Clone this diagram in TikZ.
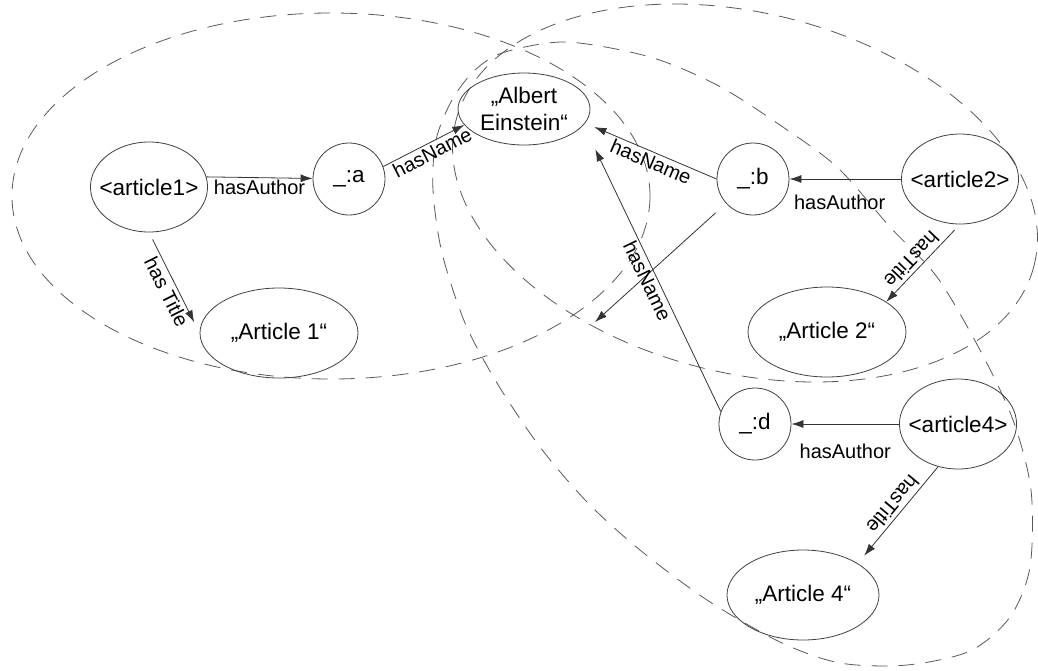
\documentclass[tikz,border=0pt]{standalone}
\usepackage{fontspec}
\setmainfont{Liberation Sans}
\usepackage{tikz}
\usetikzlibrary{arrows.meta,shapes.geometric,positioning}
\newcommand{\resfont}{\fontsize{22.5}{27}\selectfont}
\newcommand{\propfont}{\fontsize{20}{24}\selectfont}

\begin{document}
\begin{tikzpicture}[x=1pt, y=-1pt,
    >={Latex[length=12pt,width=8pt]},
    rdf/.style={draw=black!75, line width=0.8pt, inner xsep=-8pt, inner ysep=0pt, font=\resfont},
    uri/.style={rdf, ellipse, minimum width=114pt, minimum height=90pt},
    lit/.style={rdf, ellipse, minimum width=158pt, minimum height=90pt},
    bnode/.style={rdf, circle, minimum size=72pt},
    link/.style={->, draw=black!80, line width=0.8pt},
    prop/.style={font=\propfont, inner sep=2pt},
    cbd/.style={draw=black!65, line width=0.8pt, dash pattern=on 16pt off 11pt}]
    \useasboundingbox (0,0) rectangle (1038,670);

    % descriptions
    \draw[cbd] (331,196) ellipse [x radius=319, y radius=183];
    \draw[cbd, rotate around={-14:(745,193)}] (745,193) ellipse [x radius=298, y radius=180];
    \draw[cbd] plot[smooth cycle] coordinates {(452,100) (475,70) (505,52) (567,42) (650,57)
        (717,85) (777,123) (837,167) (890,227) (937,277) (980,350) (1013,420) (1031,490)
        (1030,567) (1010,617) (970,651) (907,665) (840,663) (780,642) (707,600) (640,550)
        (588,503) (540,447) (497,383) (465,323) (442,253) (433,190) (436,140)};

    \node[uri] (art1) at (149,187) {<article1>};
    \node[bnode] (ba) at (349,179) {\_:a};
    \node[rdf, ellipse, minimum width=132pt, minimum height=72pt, align=center] (ein) at (524,109) {„Albert\\Einstein“};
    \node[lit] (t1) at (279,333) {„Article 1“};
    \node[bnode] (bb) at (753,179) {\_:b};
    \node[uri] (art2) at (960,179) {<article2>};
    \node[lit] (t2) at (827,332) {„Article 2“};
    \node[bnode] (bd) at (755,424) {\_:d};
    \node[uri] (art4) at (958,424) {<article4>};
    \node[lit, minimum width=152pt] (t4) at (803,595) {„Article 4“};
    \coordinate (lost) at (595,322);

    \draw[link] (art1.10) -- node[prop, below] {hasAuthor} (ba);
    \draw[link] (ba.20) -- node[prop, pos=0.55, below, sloped] {hasName} (ein.195);
    \draw[link, shorten <=8pt, shorten >=12pt] (art1.south) -- node[prop, pos=0.54, below, sloped, inner sep=3pt] {has Title} (t1.west);

    \draw[link] (art2) -- node[prop, pos=0.55, below=14pt] {hasAuthor} (bb);
    \draw[link, shorten >=10pt] (bb.west) -- node[prop, pos=0.47, below, sloped] {hasName} (ein.-13);
    \draw[link, shorten <=14pt] (bb) -- (lost);
    \draw[link, shorten <=8pt] (art2.south) -- node[prop, pos=0.55, below, sloped, allow upside down, inner sep=3pt] {hasTitle} (t2.27);

    \draw[link] (art4) -- node[prop, below=18pt] {hasAuthor} (bd);
    \draw[link, shorten >=27pt] (bd.160) -- node[prop, pos=0.47, below, sloped] {hasName} (ein.-15);
    \draw[link, shorten >=10pt] (art4.245) -- node[prop, pos=0.46, below, sloped, allow upside down, inner sep=3pt] {hasTitle} (t4.30);
\end{tikzpicture}
\end{document}
